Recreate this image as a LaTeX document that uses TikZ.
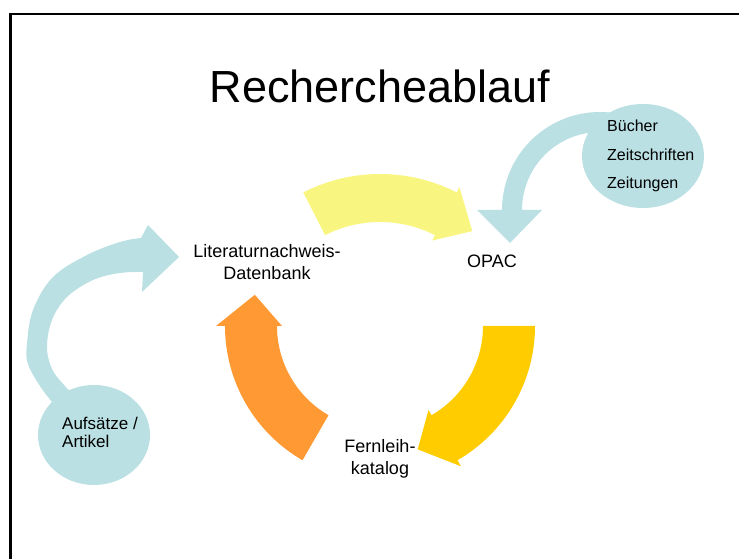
\documentclass[tikz,border=0pt]{standalone}
\usepackage{fontspec}
\setmainfont{Liberation Sans}
\usetikzlibrary{calc,shapes.geometric}

\definecolor{hellblau}{RGB}{186,224,227}
\definecolor{hellgelb}{RGB}{248,246,128}
\definecolor{goldgelb}{RGB}{255,204,0}
\definecolor{pfeilorange}{RGB}{255,153,51}

\begin{document}
\begin{tikzpicture}[x=1pt, y=1pt,
	beschr/.style={inner sep=0pt, align=center, font=\fontsize{18}{22}\selectfont},
	blase/.style={ellipse, fill=hellblau, inner sep=0pt}]
	\useasboundingbox (0,0) rectangle (739,559);
	\draw[line width=3pt] (10.5,0) -- (10.5,546);
	\draw[line width=2pt] (9,545) -- (739,545);
	
	\node[inner sep=0pt, anchor=base, font=\fontsize{45}{54}\selectfont] (titel) at (380,456) {Rechercheablauf};
	
	\coordinate (my) at (380,216);
	\coordinate (mu) at (380,233);
	\coordinate (mb) at (600,349);
	
	% Kreislauf
	\fill[hellgelb] ($(my)+(117:169)$) arc[start angle=117, end angle=63, radius=169]
		-- ($(my)+(63:175)$) -- ($(my)+(50.5:145)$) -- ($(my)+(63:115)$)
		-- ($(my)+(63:121)$) arc[start angle=63, end angle=117, radius=121] -- cycle;
	\fill[goldgelb] ($(mu)+(0:155)$) arc[start angle=0, end angle=-60, radius=155]
		-- ($(mu)+(-60:162)$) -- ($(mu)+(-73:129)$) -- ($(mu)+(-60:97)$)
		-- ($(mu)+(-60:103)$) arc[start angle=-60, end angle=0, radius=103] -- cycle;
	\fill[pfeilorange] ($(mu)+(240:155)$) arc[start angle=240, end angle=180, radius=155]
		-- ($(mu)+(180:164)$) -- ($(mu)+(166:129)$) -- ($(mu)+(180:98)$)
		-- ($(mu)+(180:103)$) arc[start angle=180, end angle=240, radius=103] -- cycle;
	
	% Zufluesse
	\fill[hellblau] ($(mb)+(70:98)$) arc[start angle=70, end angle=180, radius=98]
		-- ($(mb)+(-123,0)$) -- ($(mb)+(-90,-33)$) -- ($(mb)+(-58,0)$)
		-- ($(mb)+(180:78)$) arc[start angle=180, end angle=70, radius=78] -- cycle;
	\fill[hellblau] plot[smooth, tension=0.6] coordinates {(62,145) (42,170) (28,195) (27,215) (33,249) (53,282) (87,304) (120,317) (141,321)}
		-- (148,334) -- (179,302) -- (142,267) -- (143,287)
		-- plot[smooth, tension=0.6] coordinates {(143,287) (120,286) (93,279) (67,262) (52,239) (47,212) (52,190) (64,174) (82,155)} -- cycle;
	
	\node[blase, minimum width=112pt, minimum height=100pt] (aufs) at (94,124) {};
	\node[blase, minimum width=122pt, minimum height=104pt] (buch) at (643,403) {};
	
	\node[beschr, anchor=base] (ldb) at (267,279) {Literaturnachweis-\\Datenbank};
	\node[beschr, anchor=base] (opac) at (492,291) {OPAC};
	\node[beschr, anchor=base] (flk) at (380,84) {Fernleih-\\katalog};
	\node[beschr, anchor=base west, align=left, font=\fontsize{17}{18.5}\selectfont] (aufstext) at (62,111) {Aufsätze /\\Artikel};
	\node[beschr, anchor=base west, align=left, font=\fontsize{16}{28.5}\selectfont] (buchtext) at (607,370) {Bücher\\Zeitschriften\\Zeitungen};
\end{tikzpicture}
\end{document}
